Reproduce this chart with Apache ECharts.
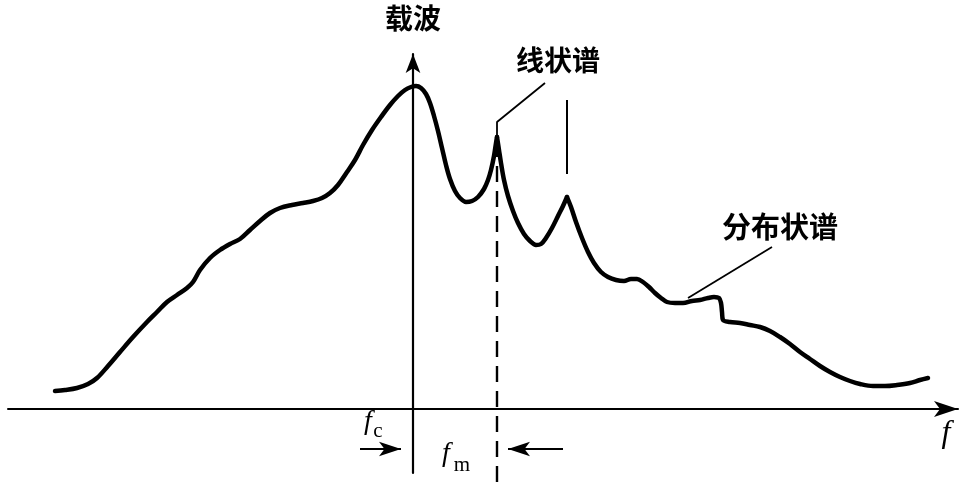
<!DOCTYPE html>
<html>
<head>
<meta charset="utf-8">
<script src="https://cdn.jsdelivr.net/npm/echarts@6/dist/echarts.min.js"></script>
<style>html,body{margin:0;padding:0;background:#fff}#c{width:975px;height:482px}</style>
</head>
<body>
<div id="c"></div>
<script>
// Spectrum curve: frequency offset from carrier, amplitude
const freq = [-358,-348,-336,-325,-316,-305,-293,-280,-266,-256,-246,-236,-226,-220,-213,-203,-193,-183,-173,-163,-153,-143,-133,-121,-110,-100,-91,-83,-75,-66,-58,-50,-41,-32,-23,-15,-8,-2,3,8,13,17,21,25,29,33,37,42,47,53,59,65,71,75,78,81,83,84,86,88,91,95,100,105,111,117,123,128,133,139,145,150,154,158,163,169,175,181,188,195,203,211,218,224,230,236,242,248,254,262,270,279,287,295,301,306,308,309,310,317,327,337,347,357,367,377,387,397,407,417,427,437,447,460,472,484,497,507,515];
const amp = [18,19,21,25,31,43,57,72,87,97,107,114,121,127,139,151,159,165,170,179,188,196,201,204,206,208,211,216,224,237,249,264,279,292,304,313,319,322,323,321,315,306,293,278,261,244,230,218,211,207,208,212,220,229,239,253,266,272,259,246,229,213,198,186,175,168,164,165,171,181,193,203,212,202,187,171,157,146,137,132,129,128,130,130,127,122,116,111,107,106,106,108,109,111,112,111,106,97,89,87,86,84,82,78,72,65,57,50,43,37,32,28,25,23,23,24,26,29,31];
// Line-spectrum peaks (sharp points) at these frequencies
const peakFreqs = [84, 154];
const fm = 84;          // f_m: first line-spectrum component
const line2 = 154;      // second line component
const labels = {carrier:'载波', lineSpec:'线状谱', distSpec:'分布状谱', f:'f'};

const pts = freq.map((x,i)=>[x, amp[i]]);
// split into segments at peaks so that peaks stay sharp
const segs = [];
let cur = [];
pts.forEach(p=>{ cur.push(p); if (peakFreqs.includes(p[0])) { segs.push(cur); cur=[p]; } });
segs.push(cur);

const chart = echarts.init(document.getElementById('c'), null, {renderer:'canvas'});
const black = '#000';
const curveSeries = segs.map(s=>({
  type:'line', data:s, smooth:0.35, showSymbol:false, symbol:'none', clip:false,
  lineStyle:{color:black,width:4.5,cap:'round',join:'round'}, silent:true
}));
const plain = (data, extra) => Object.assign({
  type:'line', data, showSymbol:false, symbol:'none', clip:false, silent:true,
  lineStyle:{color:black,width:1.8}
}, extra||{});

const cjk = 'bold 28px "Noto Sans CJK SC"';
const option = {
  animation:false,
  backgroundColor:'#fff',
  grid:{left:8,right:17,top:54,bottom:9},
  xAxis:{type:'value',min:-405,max:545,
    axisLine:{onZero:true,symbol:['none','arrow'],symbolSize:[12,24],lineStyle:{color:black,width:2}},
    axisTick:{show:false},axisLabel:{show:false},splitLine:{show:false}},
  yAxis:{type:'value',min:-64,max:355,
    axisLine:{onZero:true,symbol:['none','arrow'],symbolSize:[11,19],lineStyle:{color:black,width:2.2}},
    axisTick:{show:false},axisLabel:{show:false},splitLine:{show:false}},
  series:[
    ...curveSeries,
    // dashed line at f_m
    plain([[fm,268],[fm,-75]],{lineStyle:{color:black,width:2.4,type:[16,9]}}),
    // second line spectrum marker
    plain([[line2,309],[line2,235]],{lineStyle:{color:black,width:2}}),
    // leader for 线状谱
    plain([[132,326],[fm,287],[fm,268]]),
    // leader for 分布状谱
    plain([[275,111],[359,162]]),
    // arrows f_c and f_m
    {type:'line',data:[],silent:true,
      markLine:{silent:true,symbol:['none','arrow'],symbolSize:[11,22],label:{show:false},
        lineStyle:{color:black,width:2,type:'solid'},emphasis:{disabled:true},
        data:[
          [{coord:[-53,-40]},{coord:[-12,-40]}],
          [{coord:[150,-40]},{coord:[95,-40]}]
        ]}}
  ],
  graphic:[
    {type:'text',style:{text:labels.carrier,x:413,y:18,textAlign:'center',textVerticalAlign:'middle',font:cjk,fill:black}},
    {type:'text',style:{text:labels.lineSpec,x:558,y:60,textAlign:'center',textVerticalAlign:'middle',font:cjk,fill:black}},
    {type:'text',style:{text:labels.distSpec,x:780,y:227,textAlign:'center',textVerticalAlign:'middle',font:'bold 29px "Noto Sans CJK SC"',fill:black}},
    {type:'text',style:{text:labels.f,x:946,y:434,textAlign:'center',textVerticalAlign:'middle',font:'italic 32px "Liberation Serif"',fill:black}},
    {type:'text',style:{text:'f',x:368,y:422,textAlign:'center',textVerticalAlign:'middle',font:'italic 28px "Liberation Serif"',fill:black}},
    {type:'text',style:{text:'c',x:378,y:431,textAlign:'center',textVerticalAlign:'middle',font:'21px "Liberation Serif"',fill:black}},
    {type:'text',style:{text:'f',x:446,y:454,textAlign:'center',textVerticalAlign:'middle',font:'italic 28px "Liberation Serif"',fill:black}},
    {type:'text',style:{text:'m',x:462,y:465,textAlign:'center',textVerticalAlign:'middle',font:'21px "Liberation Serif"',fill:black}}
  ]
};
chart.setOption(option);
</script>
</body>
</html>
